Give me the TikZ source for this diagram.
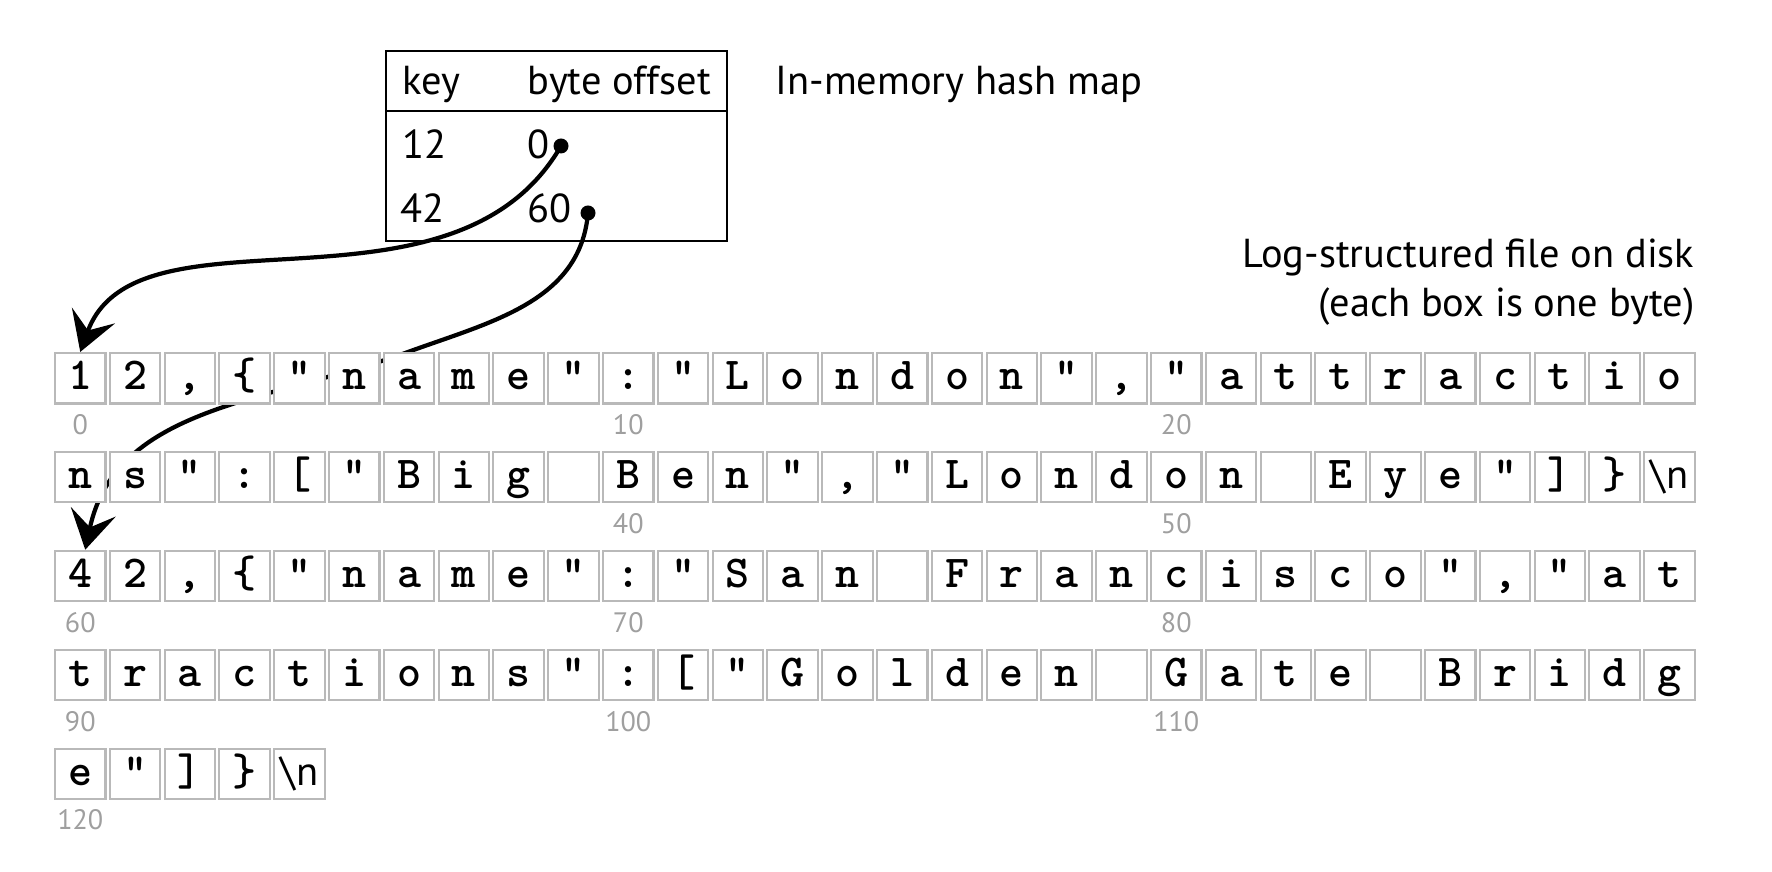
\documentclass[tikz,border=0pt]{standalone}
\usepackage{fontspec}
\setmainfont{PT Sans}
\usetikzlibrary{arrows.meta,backgrounds}

\tikzset{
  bytebox/.style={draw=gray!55, line width=0.6pt, fill=white, minimum width=0.505cm,
    minimum height=0.505cm, inner sep=0pt, text height=0.31cm, text depth=0.08cm,
    font=\ttfamily\bfseries\fontsize{13}{13}\selectfont},
  idxlabel/.style={text=gray!75, inner sep=0pt, font=\fontsize{8}{8}\selectfont},
  maptext/.style={anchor=base west, inner sep=0pt, font=\fontsize{11.5}{14}\selectfont},
  pointer/.style={line width=1.2pt, -{Stealth[length=11pt,width=13pt,inset=4.5pt]}},
  ptrdot/.style={circle, fill, inner sep=0pt, minimum size=0.15cm}
}
\newcommand{\nlbyte}{{\rmfamily\mdseries\fontsize{11.5}{11.5}\selectfont\textbackslash n}}

\begin{document}
\begin{tikzpicture}
\useasboundingbox (0,0) rectangle (17.72,8.72);

% hash map
\draw [line width=0.6pt] (3.86,6.31) rectangle (7.27,8.21);
\draw [line width=0.6pt] (3.86,7.61) -- (7.27,7.61);
\node [maptext] (keyhead) at (4.02,7.77) {key};
\node [maptext] (offhead) at (5.27,7.77) {byte offset};
\node [maptext] (key12) at (4.02,7.13) {12};
\node [maptext] (off0) at (5.27,7.13) {0};
\node [maptext] (key42) at (4.00,6.49) {42};
\node [maptext] (off60) at (5.27,6.49) {60};
\node [ptrdot] (d0) at (5.61,7.26) {};
\node [ptrdot] (d60) at (5.88,6.59) {};
\node [maptext] (maptitle) at (7.75,7.77) {In-memory hash map};

\node [maptext, anchor=base east, align=right] (logtitle) at (16.95,5.55)
  {Log-structured file on disk\\(each box is one byte)};

% the log, one row of 30 bytes per line
\foreach \line [count=\r from 0] in {
  {1,2,{,},\{,",n,a,m,e,",:,",L,o,n,d,o,n,",{,},",a,t,t,r,a,c,t,i,o},
  {n,s,",:,[,",B,i,g,{},B,e,n,",{,},",L,o,n,d,o,n,{},E,y,e,",],\},\nlbyte},
  {4,2,{,},\{,",n,a,m,e,",:,",S,a,n,{},F,r,a,n,c,i,s,c,o,",{,},",a,t},
  {t,r,a,c,t,i,o,n,s,",:,[,",G,o,l,d,e,n,{},G,a,t,e,{},B,r,i,d,g},
  {e,",],\},\nlbyte}}{
  \foreach \ch [count=\c from 0] in \line {
    \pgfmathtruncatemacro\k{30*\r+\c}
    \node [bytebox] (b\k) at ({0.8025+0.548*\c},{4.9375-0.989*\r}) {\ch};
  }
}

\foreach \k in {0,10,20,40,50,60,70,80,90,100,110,120}
  \node [idxlabel] (n\k) at ([yshift=-0.2cm]b\k.south) {\k};

% pointers into the log
\begin{pgfonlayer}{background}
\coordinate (bend60) at (4.08,5.20);
\draw [pointer] (d0.center) .. controls +(-120:2.15) and +(70:1.65) .. (b0.north);
\draw [pointer] (d60.center) to [out=-95,in=20] (bend60) to [out=200,in=78] ([xshift=0.05cm]b60.north);
\end{pgfonlayer}

\end{tikzpicture}
\end{document}
